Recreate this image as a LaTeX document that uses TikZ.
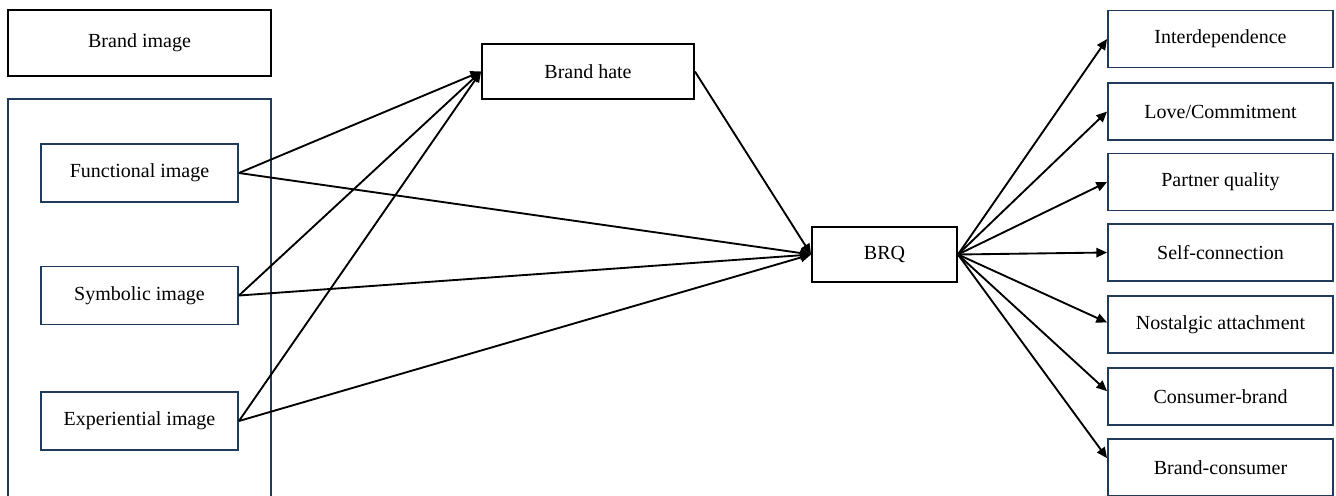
\documentclass[tikz,border=0pt]{standalone}
\usepackage{fontspec}
\setmainfont{Liberation Serif}
\usetikzlibrary{arrows.meta}
\definecolor{navy}{HTML}{1F3A5A}

\begin{document}
\begin{tikzpicture}[x=0.75pt, y=-0.75pt, line width=1.4pt, font=\fontsize{15}{18}\selectfont,
    blackbox/.style={draw=black, inner sep=0pt},
    navybox/.style={draw=navy, inner sep=0pt},
    arr/.style={-{Triangle[length=8pt, width=7pt]}}]
        \useasboundingbox (0, 0) rectangle (1336, 496); % page
        \node[blackbox, minimum width=197.25pt, minimum height=49.5pt] (image) at (139.5, 43) {Brand image}; % title box
        \draw[navy] (8, 99) rectangle (271, 530); % brand image frame
        \node[navybox, minimum width=147.75pt, minimum height=43.5pt] (func) at (139.5, 173) {Functional image};
        \node[navybox, minimum width=147.75pt, minimum height=43.5pt] (symb) at (139.5, 295.5) {Symbolic image};
        \node[navybox, minimum width=147.75pt, minimum height=43.5pt] (expe) at (139.5, 421) {Experiential image};
        \node[blackbox, minimum width=159pt, minimum height=41.25pt] (hate) at (588, 71.5) {Brand hate}; % mediator
        \node[blackbox, minimum width=108.75pt, minimum height=41.25pt] (brq) at (884.5, 254.5) {BRQ}; % outcome
        \node[navybox, minimum width=168.75pt, minimum height=42.75pt] (inter) at (1220.5, 39) {Interdependence};
        \node[navybox, minimum width=168.75pt, minimum height=42.75pt] (love) at (1220.5, 111.5) {Love/Commitment};
        \node[navybox, minimum width=168.75pt, minimum height=42.75pt] (partner) at (1220.5, 182) {Partner quality};
        \node[navybox, minimum width=168.75pt, minimum height=42.75pt] (self) at (1220.5, 252.5) {Self-connection};
        \node[navybox, minimum width=168.75pt, minimum height=42.75pt] (nostalgic) at (1220.5, 324.5) {Nostalgic attachment};
        \node[navybox, minimum width=168.75pt, minimum height=42.75pt] (consbrand) at (1220.5, 396.5) {Consumer-brand};
        \node[navybox, minimum width=168.75pt, minimum height=42.75pt] (brandcons) at (1220.5, 467.5) {Brand-consumer};
        \draw[arr] (func.east) -- (hate.west); % image to hate
        \draw[arr] (symb.east) -- (hate.west);
        \draw[arr] (expe.east) -- (hate.west);
        \draw[arr] (func.east) -- (brq.west); % image to BRQ
        \draw[arr] (symb.east) -- (brq.west);
        \draw[arr] (expe.east) -- (brq.west);
        \draw[arr] (hate.east) -- (brq.west); % hate to BRQ
        \draw[arr] (brq.east) -- (inter.west); % BRQ dimensions
        \draw[arr] (brq.east) -- (love.west);
        \draw[arr] (brq.east) -- (partner.west);
        \draw[arr] (brq.east) -- (self.west);
        \draw[arr] (brq.east) -- ([yshift=1.5pt]nostalgic.west);
        \draw[arr] (brq.east) -- ([yshift=4pt]consbrand.west);
        \draw[arr] (brq.east) -- ([yshift=7pt]brandcons.west);
    \end{tikzpicture}
\end{document}
